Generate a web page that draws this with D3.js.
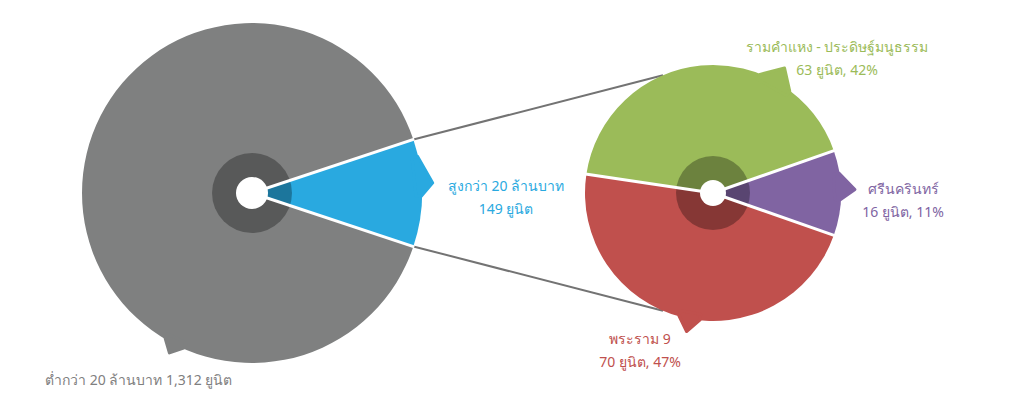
<!DOCTYPE html>
<html><head><meta charset="utf-8">
<script src="https://cdn.jsdelivr.net/npm/d3@7"></script>
<style>
html,body{margin:0;padding:0;background:#fff;}
svg text{font-family:Tahoma,"Noto Sans","DejaVu Sans",sans-serif;font-size:14px;}
</style></head>
<body><svg id="c" width="1024" height="405"></svg>
<script>
// ---- data ----
const mainCategories = ["สูงกว่า 20 ล้านบาท", "ต่ำกว่า 20 ล้านบาท"];
const mainUnits = [149, 1312];
const subCategories = ["ศรีนครินทร์", "พระราม 9", "รามคำแหง - ประดิษฐ์มนูธรรม"];
const subUnits = [16, 70, 63];
const subPercents = [11, 47, 42];
const unitWord = "ยูนิต";

// ---- styles ----
const mainColors = ["#29a9e0", "#7f8080"];
const subColors = ["#8064a2", "#c0504d", "#9bbb59"];
const rad = d => d * Math.PI / 180;
const svg = d3.select("#c");

function drawPie(cx, cy, R, rIn, rHole, values, colors, startDeg, tails) {
  const g = svg.append("g").attr("transform", `translate(${cx},${cy})`);
  const pie = d3.pie().sort(null).startAngle(rad(startDeg)).endAngle(rad(startDeg + 360));
  const arcs = pie(values);
  const arc = d3.arc().innerRadius(0).outerRadius(R);
  g.selectAll("path.s").data(arcs).join("path").attr("class", "s")
    .attr("d", arc).attr("fill", (d, i) => colors[i]);
  // tails
  const pt = (a, r) => [r * Math.sin(rad(a)), -r * Math.cos(rad(a))];
  tails.forEach((t, i) => {
    const p = [pt(t.a1, R - 6), pt(t.a1, R - 0.5), pt(t.ap, t.r), pt(t.a2, R - 0.5), pt(t.a2, R - 6)];
    g.append("path").attr("d", d3.line()(p) + "Z").attr("fill", colors[i])
      .attr("stroke", colors[i]).attr("stroke-width", 3).attr("stroke-linejoin", "round");
  });
  // dark inner ring
  g.append("circle").attr("r", rIn).attr("fill", "#000").attr("opacity", 0.3);
  // separators
  arcs.forEach(d => {
    const e = pt(d.startAngle * 180 / Math.PI, R + 1);
    g.append("line").attr("x1", 0).attr("y1", 0).attr("x2", e[0]).attr("y2", e[1])
      .attr("stroke", "#fff").attr("stroke-width", 3);
  });
  g.append("circle").attr("r", rHole).attr("fill", "#fff");
  return arcs;
}

// connecting lines
const big = {cx: 252, cy: 193, R: 170};
const small = {cx: 713, cy: 193, R: 128};
const bigStart = 90 - 360 * mainUnits[0] / d3.sum(mainUnits) / 2;
const subStart = 90 - 360 * subUnits[0] / d3.sum(subUnits) / 2;
const P = (c, a, r) => [c.cx + r * Math.sin(rad(a)), c.cy - r * Math.cos(rad(a))];
[[bigStart, -23], [180 - bigStart, 203]].forEach(([a, b]) => {
  const p1 = P(big, a, big.R - 2), p2 = P(small, b, small.R);
  svg.append("line").attr("x1", p1[0]).attr("y1", p1[1]).attr("x2", p2[0]).attr("y2", p2[1])
    .attr("stroke", "#737373").attr("stroke-width", 2);
});

drawPie(big.cx, big.cy, big.R, 40, 16, mainUnits, mainColors, bigStart, [
  {a1: 77.5, a2: 91, ap: 86.8, r: 181},
  {a1: 203.8, a2: 210.8, ap: 207.3, r: 180}
]);
drawPie(small.cx, small.cy, small.R, 37, 13, subUnits, subColors, subStart, [
  {a1: 81, a2: 93, ap: 88.6, r: 142},
  {a1: 185.8, a2: 195.5, ap: 190.8, r: 141},
  {a1: 21.6, a2: 37, ap: 29.8, r: 144}
]);

// labels
function label(x, y, lines, color, anchor) {
  const t = svg.append("text").attr("x", x).attr("y", y).attr("fill", color)
    .attr("text-anchor", anchor || "middle");
  lines.forEach((s, i) => t.append("tspan").attr("x", x).attr("dy", i ? 23 : 0).text(s));
}
const fmt = d3.format(",");
label(45, 385, [`${mainCategories[1]} ${fmt(mainUnits[1])} ${unitWord}`], mainColors[1], "start");
label(506, 191, [mainCategories[0], `${mainUnits[0]} ${unitWord}`], mainColors[0]);
label(837, 52, [subCategories[2], `${subUnits[2]} ${unitWord}, ${subPercents[2]}%`], subColors[2]);
label(903, 194, [subCategories[0], `${subUnits[0]} ${unitWord}, ${subPercents[0]}%`], subColors[0]);
label(640, 344, [subCategories[1], `${subUnits[1]} ${unitWord}, ${subPercents[1]}%`], subColors[1]);
</script></body></html>
